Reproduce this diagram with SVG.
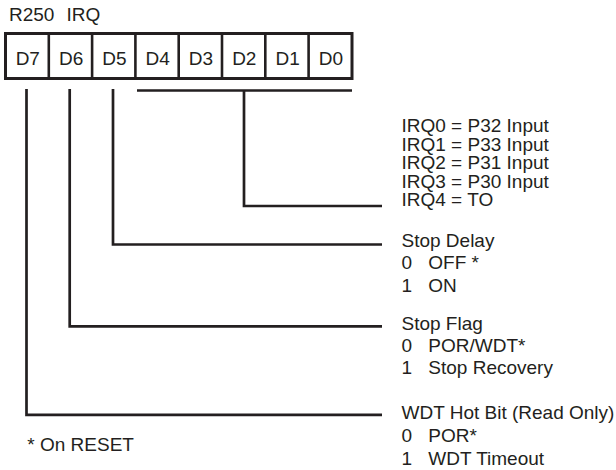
<svg xmlns="http://www.w3.org/2000/svg" width="616" height="470" viewBox="0 0 616 470">
<style>
text{font-family:"Liberation Sans",Arial,sans-serif;font-size:19px;fill:#231f20}
.c{text-anchor:middle}
.ln{fill:none;stroke:#231f20;stroke-width:2.7;stroke-linecap:butt;stroke-linejoin:miter}
.box{fill:#fff;stroke:#231f20;stroke-width:3}
.div{stroke:#231f20;stroke-width:2.6}
</style>
<rect width="616" height="470" fill="#fff"/>
<g id="title"><text x="9" y="21">R250 <tspan x="66.5">IRQ</tspan></text></g>
<g id="register">
<rect class="box" x="5.5" y="33.5" width="346.5" height="45"/>
<line class="div" x1="48.8" y1="33.5" x2="48.8" y2="78.5"/>
<line class="div" x1="92.1" y1="33.5" x2="92.1" y2="78.5"/>
<line class="div" x1="135.4" y1="33.5" x2="135.4" y2="78.5"/>
<line class="div" x1="178.7" y1="33.5" x2="178.7" y2="78.5"/>
<line class="div" x1="222" y1="33.5" x2="222" y2="78.5"/>
<line class="div" x1="265.3" y1="33.5" x2="265.3" y2="78.5"/>
<line class="div" x1="308.6" y1="33.5" x2="308.6" y2="78.5"/>
<text class="c" x="27.8" y="64.5">D7</text>
<text class="c" x="71.1" y="64.5">D6</text>
<text class="c" x="114.4" y="64.5">D5</text>
<text class="c" x="157.6" y="64.5">D4</text>
<text class="c" x="201" y="64.5">D3</text>
<text class="c" x="244.3" y="64.5">D2</text>
<text class="c" x="287.6" y="64.5">D1</text>
<text class="c" x="330.9" y="64.5">D0</text>
</g>
<g id="connectors">
<path class="ln" d="M137 90.5H352M244 90.5V206H382"/>
<path class="ln" d="M113 89V244.5H382"/>
<path class="ln" d="M69.7 89V326.3H382"/>
<path class="ln" d="M26.5 89V414.8H382"/>
</g>
<g id="irq-sources">
<text x="401.5" y="132">IRQ0 = P32 Input</text>
<text x="401.5" y="150.5">IRQ1 = P33 Input</text>
<text x="401.5" y="169">IRQ2 = P31 Input</text>
<text x="401.5" y="187.5">IRQ3 = P30 Input</text>
<text x="401.5" y="206">IRQ4 = TO</text>
</g>
<g id="stop-delay">
<text x="401.5" y="247">Stop Delay</text>
<text x="401.5" y="269.3">0 <tspan x="428.3">OFF *</tspan></text>
<text x="401.5" y="291.5">1 <tspan x="428.3">ON</tspan></text>
</g>
<g id="stop-flag">
<text x="401.5" y="329.5">Stop Flag</text>
<text x="401.5" y="351.5">0 <tspan x="428.3">POR/WDT*</tspan></text>
<text x="401.5" y="373.5">1 <tspan x="428.3">Stop Recovery</tspan></text>
</g>
<g id="wdt-hot-bit">
<text x="401.5" y="419">WDT Hot Bit (Read Only)</text>
<text x="401.5" y="442">0 <tspan x="428.3">POR*</tspan></text>
<text x="401.5" y="465">1 <tspan x="428.3">WDT Timeout</tspan></text>
</g>
<g id="note"><text x="27.3" y="451">* On RESET</text></g>
</svg>
